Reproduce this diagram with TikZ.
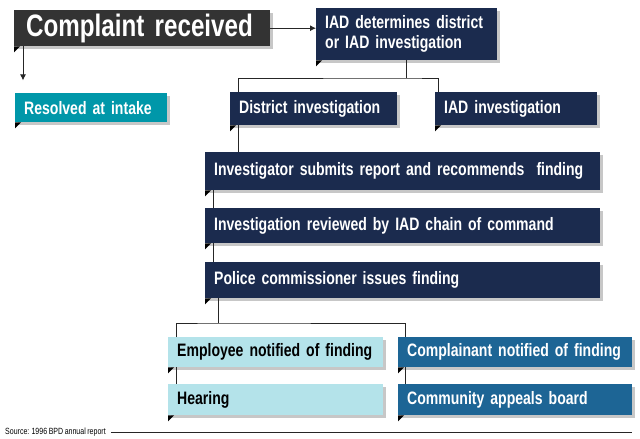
\documentclass[tikz,border=0pt]{standalone}
\usepackage{fontspec}
\usetikzlibrary{arrows.meta}
\setmainfont{Liberation Sans}[FakeStretch=0.78,WordSpace={0.8,0.5,0.3}]
\begin{document}
\begin{tikzpicture}[x=1pt,y=-1pt,
  box/.style={anchor=north west,font=\bfseries\fontsize{18}{20}\selectfont,text=white,align=left,inner xsep=9pt,inner ysep=0pt,
    preaction={fill=black!22,transform canvas={shift={(3,3)}}}},
  navy/.style={box,fill=navyc},
  conn/.style={draw=black!85,line width=0.9pt},
  arr/.style={conn,-{Latex[length=6pt,width=6pt]}}]
\definecolor{navyc}{HTML}{1B2B4E}
\definecolor{grayc}{HTML}{333333}
\definecolor{tealc}{HTML}{0097A9}
\definecolor{lightc}{HTML}{B4E3EA}
\definecolor{bluec}{HTML}{1D6595}
\useasboundingbox[fill=white] (0,0) rectangle (640,439);
\node[box,fill=grayc,minimum width=256pt,minimum height=36pt,font=\bfseries\fontsize{31}{32}\selectfont,inner xsep=12pt,text width=232pt] (cr) at (14,10) {Complaint received};
\node[navy,minimum width=181pt,minimum height=52pt,text width=163pt] (iad) at (316,8) {IAD determines district\\or IAD investigation};
\node[box,fill=tealc,minimum width=152pt,minimum height=29pt,text width=134pt] (ri) at (15,93) {Resolved at intake};
\node[navy,minimum width=167pt,minimum height=33pt,text width=149pt] (di) at (230,92) {District investigation};
\node[navy,minimum width=162pt,minimum height=33pt,text width=144pt] (ii) at (435,92) {IAD investigation};
\node[navy,minimum width=395pt,minimum height=38pt,text width=377pt] (is) at (205,152) {Investigator submits report and recommends\ \ finding};
\node[navy,minimum width=395pt,minimum height=35pt,text width=377pt] (ir) at (205,208) {Investigation reviewed by IAD chain of command};
\node[navy,minimum width=395pt,minimum height=36pt,text width=377pt] (pc) at (205,262) {Police commissioner issues finding};
\node[box,fill=lightc,text=black,minimum width=215pt,minimum height=30pt,text width=197pt] (en) at (168,337) {Employee notified of finding};
\node[box,fill=bluec,minimum width=234pt,minimum height=30pt,text width=216pt] (cn) at (398,337) {Complainant notified of finding};
\node[box,fill=lightc,text=black,minimum width=215pt,minimum height=31pt,text width=197pt] (he) at (168,384) {Hearing};
\node[box,fill=bluec,minimum width=234pt,minimum height=31pt,text width=216pt] (ca) at (398,384) {Community appeals board};
\foreach \n in {cr,iad,ri,di,ii,is,ir,pc,en,cn,he,ca}
  \fill[black] (\n.south west) -- ++(0,6) -- ++(6,-6) -- cycle;
\draw[arr] (cr.east) -- (iad.west|-cr.east);
\draw[arr] ([xshift=9pt]cr.south west) -- ++(0,34);
\coordinate (b1) at (406,78);
\draw[conn] (iad.south-|b1) -- (b1);
\draw[conn] ([xshift=8pt]di.north west) |- (b1) -| ([xshift=3pt]ii.north west);
\draw[conn] ([xshift=8pt]di.south west) -- ([xshift=8pt]di.south west|-is.north);
\draw[conn] ([xshift=8pt]is.south west) -- ([xshift=8pt]ir.north west);
\draw[conn] ([xshift=8pt]ir.south west) -- ([xshift=8pt]pc.north west);
\coordinate (b2) at (218,323);
\draw[conn] ([xshift=13pt]pc.south west) -- (b2);
\draw[conn] ([xshift=8pt]en.north west) |- (b2) -| ([xshift=7pt]cn.north west);
\draw[conn] ([xshift=8pt]en.south west) -- ([xshift=8pt]he.north west);
\draw[conn] ([xshift=7pt]cn.south west) -- ([xshift=7pt]ca.north west);
\node[anchor=west,inner sep=0pt,font=\fontsize{9}{10}\selectfont] (src) at (5,432) {Source: 1996 BPD annual report};
\coordinate (srcend) at (632,432);
\draw[conn,line width=0.6pt] ([xshift=5pt]src.east) -- (srcend);
\end{tikzpicture}
\end{document}
